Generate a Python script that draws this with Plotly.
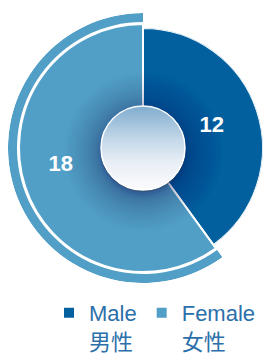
import numpy as np
import plotly.graph_objects as go

# ---- data ----
categories = ["Male", "Female"]
categories_zh = ["男性", "女性"]
counts = [12, 18]

# ---- style / geometry (pixel coordinates of the 263x355 figure) ----
W, H = 263, 355
CX, CY = 143, 148
R_MALE = 120
R_FEMALE = 124
RING_IN, RING_OUT = 126, 135
R_SHADE = 80
SHADE_DY = 4
R_LABEL_AX = 100
R_HUB = 42
LABEL_R = [72, 84]
LABEL_DTHETA = [1, 6]

MALE_C = "#02609e"
FEMALE_C = "#519fc7"
TEXT_C = "#2b70aa"
FONT = "Liberation Sans, Noto Sans CJK SC, sans-serif"

total = sum(counts)
widths = [v / total * 360 for v in counts]
starts = np.cumsum([0] + widths[:-1])
mids = [float(s + w / 2) for s, w in zip(starts, widths)]


def domain_px(left, right, top, bottom):
    return dict(x=[left / W, right / W], y=[1 - bottom / H, 1 - top / H])


def sector_bbox(a0, a1):
    angs = [a0, a1] + [a for a in (0, 90, 180, 270, 360, 450) if a0 <= a <= a1]
    xs = [np.cos(np.radians(a)) for a in angs] + [0.0]
    ys = [np.sin(np.radians(a)) for a in angs] + [0.0]
    return min(xs), min(ys), max(xs), max(ys)


def polar_layout(R, sector=(0, 360), cx=CX, cy=CY):
    x0, y0, x1, y1 = sector_bbox(*sector)
    return dict(
        domain=domain_px(cx + R * x0, cx + R * x1, cy - R * y1, cy - R * y0),
        sector=list(sector),
        bgcolor="rgba(0,0,0,0)",
        radialaxis=dict(visible=False, range=[0, R]),
        angularaxis=dict(visible=False, rotation=90, direction="clockwise"),
    )


fig = go.Figure()

# male slice
fig.add_trace(go.Barpolar(
    subplot="polar", r=[R_MALE], base=[0], theta=[mids[0]], width=[widths[0]],
    marker=dict(color=MALE_C, line=dict(color="white", width=2)),
    name=f"{categories[0]}<br>{categories_zh[0]}", hoverinfo="skip",
))
# female slice + outer ring
fig.add_trace(go.Barpolar(
    subplot="polar2", r=[R_FEMALE], base=[0], theta=[mids[1]], width=[widths[1]],
    marker=dict(color=FEMALE_C, line=dict(color="white", width=2)),
    name=f"{categories[1]}<br>{categories_zh[1]}", hoverinfo="skip",
))
fig.add_trace(go.Barpolar(
    subplot="polar2", r=[RING_OUT - RING_IN], base=[RING_IN], theta=[mids[1]], width=[widths[1]],
    marker=dict(color=FEMALE_C, line=dict(width=0)),
    showlegend=False, hoverinfo="skip",
))

# soft shadow around the hub
NS = 30
for t in np.linspace(0, 1, NS):
    rk = R_HUB + 1 + (R_SHADE - R_HUB - 1) * t ** 1.8
    fig.add_trace(go.Barpolar(
        subplot="polar3", r=[rk] * len(counts), base=[0] * len(counts),
        theta=mids, width=widths,
        marker=dict(color="rgba(0,28,70,0.012)", line=dict(width=0)),
        showlegend=False, hoverinfo="skip",
    ))

# value labels
fig.add_trace(go.Scatterpolar(
    subplot="polar4", r=LABEL_R, theta=[m + d for m, d in zip(mids, LABEL_DTHETA)], mode="text",
    text=[str(v) for v in counts],
    textfont=dict(family="Liberation Sans, Arial, sans-serif", size=22, color="white", weight="bold"),
    showlegend=False, hoverinfo="skip",
))


def px(x, y):
    return x / W, 1 - y / H


# ---- centre hub with vertical gradient ----
shapes = []
sx0, sy0 = px(CX - R_HUB - 0.5, CY - R_HUB + 2)
sx1, sy1 = px(CX + R_HUB + 0.5, CY + R_HUB + 2.5)
shapes.append(dict(type="circle", xref="paper", yref="paper", x0=sx0, y0=sy1, x1=sx1, y1=sy0,
                   fillcolor="rgba(50,70,100,0.45)", line=dict(width=0)))

stops = [(0.0, (128, 172, 206)), (0.4, (196, 216, 233)), (0.68, (233, 239, 246)), (1.0, (252, 252, 254))]


def grad(f):
    for (fa, ca), (fb, cb) in zip(stops[:-1], stops[1:]):
        if f <= fb:
            t = (f - fa) / (fb - fa)
            c = [round(a + (b - a) * t) for a, b in zip(ca, cb)]
            return f"rgb({c[0]},{c[1]},{c[2]})"
    c = stops[-1][1]
    return f"rgb({c[0]},{c[1]},{c[2]})"


NB = 40
for k in range(NB):
    yk = CY - R_HUB + k * 2 * R_HUB / NB
    th0 = np.arccos(np.clip((CY - yk) / R_HUB, -1, 1))
    ths = np.linspace(th0, 2 * np.pi - th0, 60)
    pts = [px(CX + R_HUB * np.sin(t), CY - R_HUB * np.cos(t)) for t in ths]
    path = "M" + " L".join(f"{a:.5f},{b:.5f}" for a, b in pts) + " Z"
    shapes.append(dict(type="path", xref="paper", yref="paper", path=path,
                       fillcolor=grad((k + 0.5) / NB), line=dict(width=0)))

hx0, hy0 = px(CX - R_HUB, CY - R_HUB)
hx1, hy1 = px(CX + R_HUB, CY + R_HUB)
shapes.append(dict(type="circle", xref="paper", yref="paper", x0=hx0, y0=hy1, x1=hx1, y1=hy0,
                   fillcolor="rgba(0,0,0,0)", line=dict(color="rgba(255,255,255,0.95)", width=1.5)))

fig.update_layout(
    width=W, height=H, autosize=False,
    margin=dict(l=0, r=0, t=0, b=0, pad=0, autoexpand=False),
    paper_bgcolor="white", plot_bgcolor="white",
    polar=polar_layout(R_MALE),
    polar2=polar_layout(RING_OUT, (88, 308)),
    polar3=polar_layout(R_SHADE, cy=CY + SHADE_DY),
    polar4=polar_layout(R_LABEL_AX),
    shapes=shapes,
    hovermode=False,
    showlegend=True,
    legend=dict(
        orientation="h", x=49 / W, y=1 - 292 / H, xanchor="left", yanchor="top",
        valign="top", bgcolor="rgba(0,0,0,0)", borderwidth=0,
        font=dict(family=FONT, size=22, color=TEXT_C),
        itemclick=False, itemdoubleclick=False,
    ),
)

fig.write_html(
    "out.html",
    config={"displayModeBar": False},
    post_script="document.body.style.margin='0';document.body.style.overflow='hidden';",
)
